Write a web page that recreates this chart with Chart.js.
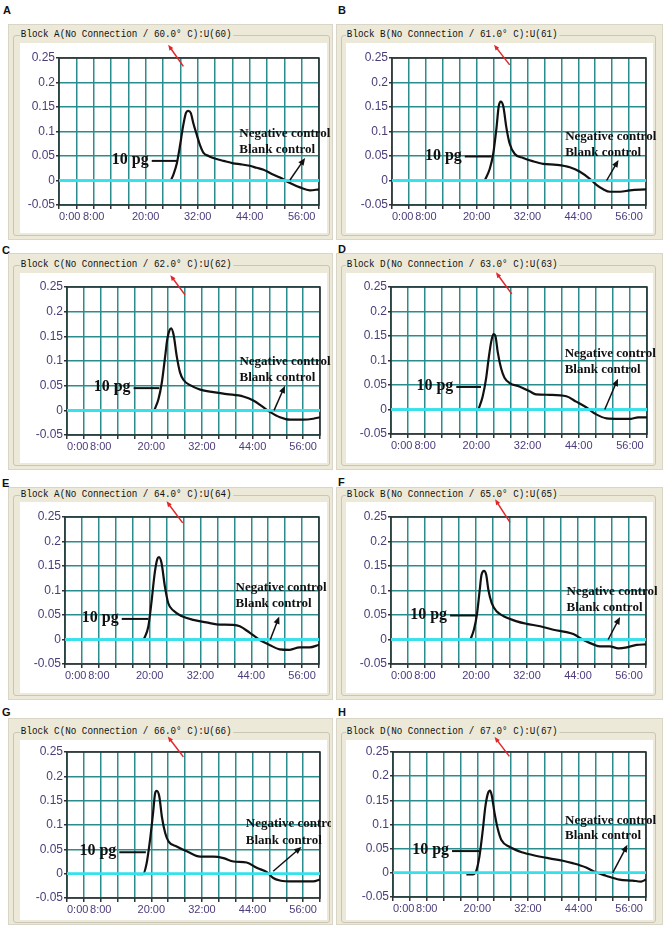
<!DOCTYPE html>
<html lang="en">
<head>
  <meta charset="UTF-8">
  <title>Turbidity curves, 60-67 °C</title>
  <style>
    body {
      margin: 0;
      width: 666px;
      height: 934px;
      position: relative;
      overflow: hidden;
      background: #ffffff;
      font-family: "Liberation Sans", Arial, sans-serif;
    }
    .letter {
      position: absolute;
      font: bold 11px "Liberation Sans", Arial, sans-serif;
      color: #111;
    }
    .frame {
      position: absolute;
      background: #ece9d8;
      border: 1px solid #d9d6c7;
      box-sizing: border-box;
    }
    .group {
      position: absolute;
      border: 1px solid #c9c6b6;
      border-radius: 3px;
      box-sizing: border-box;
    }
    .gtitle {
      position: absolute;
      background: #ece9d8;
      padding: 0 2px 0 1px;
      font: 11px "Liberation Mono", "DejaVu Sans Mono", monospace;
      line-height: 11px;
      color: #111;
      white-space: pre;
      transform: scaleX(0.84);
      transform-origin: 0 50%;
    }
    .white {
      position: absolute;
      background: #ffffff;
    }
    canvas {
      position: absolute;
    }
  </style>
</head>
<body>
  <script src="https://cdn.jsdelivr.net/npm/chart.js"></script>
  <script>
    // axis ticks
    const xTickValues = [0, 8, 20, 32, 44, 56];
    const xTickLabels = ['0:00', '8:00', '20:00', '32:00', '44:00', '56:00'];
    const yTickValues = [-0.05, 0, 0.05, 0.1, 0.15, 0.2, 0.25];
    const yTickLabels = ['-0.05', '0', '0.05', '0.1', '0.15', '0.2', '0.25'];

    // panel letters and block titles
    const panelLetters = ['A', 'B', 'C', 'D', 'E', 'F', 'G', 'H'];
    const panelTitles = [
      'Block A(No Connection / 60.0° C):U(60)',
      'Block B(No Connection / 61.0° C):U(61)',
      'Block C(No Connection / 62.0° C):U(62)',
      'Block D(No Connection / 63.0° C):U(63)',
      'Block A(No Connection / 64.0° C):U(64)',
      'Block B(No Connection / 65.0° C):U(65)',
      'Block C(No Connection / 66.0° C):U(66)',
      'Block D(No Connection / 67.0° C):U(67)'
    ];

    // controls stay flat on the baseline
    const baselineTimes = [0, 60];
    const negativeControl = [0, 0];
    const blankControl = [0, 0];

    // 10 pg sample curves (time in min, turbidity)
    const timeA = [25.8, 26.4, 27.2, 27.9, 28.7, 29.3, 29.8, 30.4, 31.0, 31.8, 32.5, 33.3, 34.5, 35.6, 38.0, 40.2, 42.0, 44.0, 45.6, 47.2, 49.0, 51.0, 53.3, 55.6, 57.9, 60.0];
    const signalA = [0, 0.012, 0.035, 0.07, 0.114, 0.138, 0.142, 0.138, 0.117, 0.093, 0.073, 0.057, 0.05, 0.046, 0.04, 0.035, 0.033, 0.030, 0.026, 0.022, 0.014, 0.006, -0.005, -0.014, -0.020, -0.018];
    const timeB = [21.9, 23.1, 23.9, 24.7, 25.2, 25.7, 26.3, 27.0, 27.8, 29.0, 31.0, 33.4, 35.7, 38.9, 42.0, 44.4, 46.8, 48.3, 49.9, 51.5, 53.9, 56.2, 60.0];
    const signalB = [0, 0.024, 0.054, 0.109, 0.151, 0.161, 0.151, 0.109, 0.075, 0.054, 0.046, 0.039, 0.034, 0.032, 0.027, 0.018, 0.003, -0.009, -0.018, -0.023, -0.023, -0.020, -0.018];
    const timeC = [20.7, 21.7, 22.5, 23.3, 23.8, 24.3, 24.7, 25.3, 26.0, 26.8, 27.6, 29.2, 31.6, 34.7, 37.9, 41.8, 44.2, 46.6, 48.1, 50.5, 52.9, 56.0, 58.4, 60.0];
    const signalC = [0, 0.023, 0.057, 0.111, 0.145, 0.162, 0.166, 0.152, 0.111, 0.077, 0.062, 0.051, 0.042, 0.037, 0.033, 0.028, 0.020, 0.006, -0.003, -0.014, -0.019, -0.019, -0.017, -0.014];
    const timeD = [20.5, 21.5, 22.3, 22.9, 23.5, 24.0, 24.5, 25.0, 25.8, 26.6, 27.8, 30.1, 32.5, 34.0, 37.2, 41.1, 43.4, 45.8, 48.1, 50.5, 53.6, 56.3, 57.9, 60.0];
    const signalD = [0, 0.027, 0.064, 0.105, 0.139, 0.154, 0.149, 0.118, 0.084, 0.065, 0.054, 0.047, 0.037, 0.031, 0.030, 0.027, 0.016, 0.004, -0.010, -0.018, -0.019, -0.019, -0.016, -0.016];
    const timeE = [18.6, 19.7, 20.4, 21.2, 21.8, 22.2, 22.8, 23.6, 24.4, 25.6, 27.5, 30.3, 33.4, 35.8, 39.7, 41.3, 43.6, 46.0, 48.3, 50.7, 53.1, 55.4, 57.8, 60.0];
    const signalE = [0, 0.027, 0.074, 0.136, 0.164, 0.168, 0.156, 0.108, 0.074, 0.059, 0.048, 0.040, 0.035, 0.031, 0.030, 0.027, 0.014, -0.001, -0.011, -0.020, -0.021, -0.016, -0.016, -0.011];
    const timeF = [18.7, 19.5, 20.2, 20.8, 21.3, 21.9, 22.4, 22.9, 23.7, 24.9, 26.4, 29.6, 31.9, 35.1, 38.2, 41.3, 42.9, 45.3, 47.6, 49.2, 51.5, 53.5, 55.5, 57.8, 60.0];
    const signalF = [0, 0.020, 0.050, 0.095, 0.132, 0.140, 0.132, 0.102, 0.074, 0.057, 0.048, 0.037, 0.032, 0.027, 0.020, 0.015, 0.011, -0.001, -0.010, -0.014, -0.014, -0.018, -0.016, -0.011, -0.010];
    const timeG = [16.6, 18.0, 18.9, 19.7, 20.4, 20.9, 21.3, 21.9, 22.5, 23.3, 24.1, 26.0, 28.4, 31.6, 34.7, 37.1, 39.5, 42.6, 45.0, 47.4, 48.9, 50.5, 53.7, 58.4, 60.0];
    const signalG = [-0.001, -0.001, 0.022, 0.070, 0.124, 0.165, 0.170, 0.158, 0.117, 0.083, 0.066, 0.056, 0.046, 0.035, 0.035, 0.032, 0.025, 0.023, 0.012, 0.003, -0.009, -0.014, -0.016, -0.016, -0.012];
    const timeH = [17.4, 18.9, 19.7, 20.5, 21.3, 21.9, 22.5, 23.0, 23.4, 24.1, 24.9, 25.7, 27.6, 30.8, 33.1, 37.1, 40.3, 42.6, 45.8, 48.1, 50.5, 53.7, 56.8, 58.8, 60.0];
    const signalH = [-0.003, -0.003, 0.003, 0.034, 0.089, 0.137, 0.164, 0.170, 0.161, 0.123, 0.089, 0.068, 0.054, 0.042, 0.037, 0.030, 0.025, 0.020, 0.011, 0.001, -0.006, -0.014, -0.016, -0.018, -0.014];

    const sampleTimes = [timeA, timeB, timeC, timeD, timeE, timeF, timeG, timeH];
    const sampleSignals = [signalA, signalB, signalC, signalD, signalE, signalF, signalG, signalH];

    // page layout of each panel: frame box, white box, plot box, group line y, letter position
    const layout = [
      { frame: [8, 24, 325, 216], white: [20, 43, 307, 190], plot: [59, 58, 319, 205], gy: 35, letter: [3, 4] },
      { frame: [336, 24, 327, 216], white: [346, 43, 307, 190], plot: [392, 58, 646, 205], gy: 35, letter: [338, 4] },
      { frame: [8, 253, 325, 217], white: [20, 273, 307, 190], plot: [67, 287, 320, 435], gy: 265, letter: [2, 244] },
      { frame: [336, 253, 327, 217], white: [346, 273, 307, 190], plot: [391, 287, 647, 434], gy: 265, letter: [338, 243] },
      { frame: [8, 487, 325, 213], white: [20, 502, 307, 191], plot: [65, 517, 319, 664], gy: 495, letter: [2, 477] },
      { frame: [336, 487, 327, 213], white: [346, 502, 307, 191], plot: [391, 517, 646, 664], gy: 495, letter: [338, 476] },
      { frame: [8, 718, 325, 207], white: [20, 740, 307, 180], plot: [67, 752, 320, 898], gy: 732, letter: [2, 706] },
      { frame: [336, 718, 327, 207], white: [346, 740, 307, 180], plot: [393, 752, 646, 897], gy: 732, letter: [338, 706] }
    ];

    // annotation anchors in data units: 10 pg leader, control text, black arrow, red arrow
    const notes = [
      { pg: [21.4, 27.2, 0.040], ctrl: [41.6, 0.095, 0.063], arrow: [53.3, 0.001, 56.8, 0.046], red: [28.7, 0.233, 25.2, 0.277] },
      { pg: [17.2, 23.5, 0.049], ctrl: [40.9, 0.089, 0.056], arrow: [50.7, 0, 53.5, 0.042], red: [27.8, 0.236, 24.1, 0.277] },
      { pg: [15.8, 21.9, 0.045], ctrl: [40.9, 0.099, 0.067], arrow: [49.1, 0, 51.7, 0.050], red: [28.0, 0.234, 24.5, 0.274] },
      { pg: [15.3, 21.1, 0.046], ctrl: [40.7, 0.115, 0.082], arrow: [50.1, 0, 53.2, 0.063], red: [28.3, 0.236, 24.6, 0.280] },
      { pg: [13.4, 19.7, 0.042], ctrl: [40.3, 0.106, 0.074], arrow: [48.5, 0, 50.6, 0.047], red: [27.8, 0.238, 24.0, 0.282] },
      { pg: [13.9, 20.0, 0.049], ctrl: [41.3, 0.097, 0.065], arrow: [51.1, 0, 53.9, 0.046], red: [28.0, 0.239, 24.5, 0.286] },
      { pg: [12.4, 18.7, 0.044], ctrl: [42.4, 0.102, 0.067], arrow: [48.9, 0.005, 55.6, 0.055], red: [27.6, 0.240, 23.9, 0.282] },
      { pg: [14.0, 20.5, 0.045], ctrl: [40.8, 0.109, 0.077], arrow: [52.1, 0, 55.6, 0.058], red: [27.6, 0.241, 24.1, 0.281] }
    ];

    const fontFamily = '"Liberation Sans Narrow", "Liberation Sans", Arial, sans-serif';
    const tickColor = '#4b3c7a';
    const gridColor = '#2a8d8d';
    const baseColor = '#34e2ec';

    function drawArrow(ctx, x0, y0, x1, y1, color, width, head) {
      const ang = Math.atan2(y1 - y0, x1 - x0);
      ctx.strokeStyle = color;
      ctx.fillStyle = color;
      ctx.lineWidth = width;
      ctx.beginPath();
      ctx.moveTo(x0, y0);
      ctx.lineTo(x1 - Math.cos(ang) * head * 0.6, y1 - Math.sin(ang) * head * 0.6);
      ctx.stroke();
      ctx.beginPath();
      ctx.moveTo(x1, y1);
      ctx.lineTo(x1 - head * Math.cos(ang - 0.4), y1 - head * Math.sin(ang - 0.4));
      ctx.lineTo(x1 - head * Math.cos(ang + 0.4), y1 - head * Math.sin(ang + 0.4));
      ctx.closePath();
      ctx.fill();
    }

    // plot frame under the curves, annotations on top
    const decor = {
      id: 'decor',
      beforeDatasetsDraw(chart) {
        const { ctx, chartArea: a } = chart;
        ctx.save();
        ctx.strokeStyle = '#2b2b2b';
        ctx.lineWidth = 1.5;
        ctx.strokeRect(a.left, a.top, a.width, a.height);
        ctx.restore();
      },
      afterDraw(chart) {
        const n = chart.options.plugins.decor.note;
        const { ctx, scales: { x, y } } = chart;
        ctx.save();
        // 10 pg leader
        const px0 = x.getPixelForValue(n.pg[0]), px1 = x.getPixelForValue(n.pg[1]);
        const py = y.getPixelForValue(n.pg[2]);
        ctx.strokeStyle = '#111';
        ctx.lineWidth = 2;
        ctx.beginPath();
        ctx.moveTo(px0, py);
        ctx.lineTo(px1, py);
        ctx.stroke();
        ctx.fillStyle = '#111';
        ctx.font = 'bold 16px "Liberation Serif", "Times New Roman", serif';
        ctx.textAlign = 'right';
        ctx.textBaseline = 'middle';
        ctx.fillText('10 pg', px0 - 3, py - 1);
        // control labels
        ctx.font = 'bold 13px "Liberation Serif", "Times New Roman", serif';
        ctx.textAlign = 'left';
        const cx = x.getPixelForValue(n.ctrl[0]);
        ctx.fillText('Negative control', cx, y.getPixelForValue(n.ctrl[1]));
        ctx.fillText('Blank control', cx, y.getPixelForValue(n.ctrl[2]));
        drawArrow(ctx, x.getPixelForValue(n.arrow[0]), y.getPixelForValue(n.arrow[1]),
          x.getPixelForValue(n.arrow[2]), y.getPixelForValue(n.arrow[3]), '#111', 1.5, 8);
        drawArrow(ctx, x.getPixelForValue(n.red[0]), y.getPixelForValue(n.red[1]),
          x.getPixelForValue(n.red[2]), y.getPixelForValue(n.red[3]), '#e3262a', 1.5, 6);
        ctx.restore();
      }
    };

    function el(cls, box, parent) {
      const d = document.createElement('div');
      d.className = cls;
      d.style.left = box[0] + 'px';
      d.style.top = box[1] + 'px';
      if (box[2] !== undefined) d.style.width = box[2] + 'px';
      if (box[3] !== undefined) d.style.height = box[3] + 'px';
      (parent || document.body).appendChild(d);
      return d;
    }

    layout.forEach((L, i) => {
      const [fx, fy, fw, fh] = L.frame;
      const [wx, wy, ww, wh] = L.white;
      const [pl, pt, pr, pb] = L.plot;

      el('letter', L.letter).textContent = panelLetters[i];
      el('frame', L.frame);
      el('group', [fx + 5, L.gy, wx + ww + 3 - (fx + 5), wy + wh + 3 - L.gy]);
      el('gtitle', [wx, L.gy - 6]).textContent = panelTitles[i];
      el('white', L.white);

      // canvas reaches a little above and right of the white area (transparent)
      const cLeft = wx, cTop = wy - 8, cW = ww + 4, cH = wh + 8;
      const canvas = document.createElement('canvas');
      canvas.width = cW;
      canvas.height = cH;
      canvas.style.left = cLeft + 'px';
      canvas.style.top = cTop + 'px';
      canvas.style.width = cW + 'px';
      canvas.style.height = cH + 'px';
      document.body.appendChild(canvas);

      const yAxisW = pl - cLeft;
      const xAxisH = cTop + cH - pb;

      new Chart(canvas, {
        type: 'line',
        data: {
          datasets: [
            {
              label: '10 pg',
              data: sampleTimes[i].map((t, k) => ({ x: t, y: sampleSignals[i][k] })),
              borderColor: '#111111',
              borderWidth: 2.2,
              pointRadius: 0,
              cubicInterpolationMode: 'monotone',
              order: 2
            },
            {
              label: 'Negative control',
              data: baselineTimes.map((t, k) => ({ x: t, y: negativeControl[k] })),
              borderColor: baseColor,
              borderWidth: 2.5,
              pointRadius: 0,
              order: 1
            },
            {
              label: 'Blank control',
              data: baselineTimes.map((t, k) => ({ x: t, y: blankControl[k] })),
              borderColor: baseColor,
              borderWidth: 2.5,
              pointRadius: 0,
              order: 1
            }
          ]
        },
        options: {
          responsive: false,
          animation: false,
          devicePixelRatio: 1,
          layout: { padding: { top: pt - cTop, right: cLeft + cW - pr, left: 0, bottom: 0 } },
          plugins: {
            legend: { display: false },
            tooltip: { enabled: false },
            decor: { note: notes[i] }
          },
          scales: {
            x: {
              type: 'linear',
              min: 0,
              max: 60,
              afterFit(s) { s.height = xAxisH; },
              grid: { color: gridColor, lineWidth: 1.5, tickLength: 4, tickColor: '#333' },
              border: { display: false },
              ticks: {
                stepSize: 4,
                autoSkip: false,
                maxRotation: 0,
                align: 'inner',
                padding: 1,
                color: tickColor,
                font: { family: fontFamily, size: 11 },
                callback(v) {
                  const k = xTickValues.indexOf(Math.round(v));
                  return k >= 0 ? xTickLabels[k] : '';
                }
              }
            },
            y: {
              min: -0.05,
              max: 0.25,
              afterFit(s) { s.width = yAxisW; },
              grid: { color: gridColor, lineWidth: 1.5, tickLength: 3, tickColor: '#333' },
              border: { display: false },
              ticks: {
                stepSize: 0.05,
                padding: 1,
                color: tickColor,
                font: { family: fontFamily, size: 12 },
                callback(v) {
                  const k = yTickValues.findIndex(t => Math.round(t * 100) === Math.round(v * 100));
                  return k >= 0 ? yTickLabels[k] : '';
                }
              }
            }
          }
        },
        plugins: [decor]
      });
    });
  </script>
</body>
</html>
